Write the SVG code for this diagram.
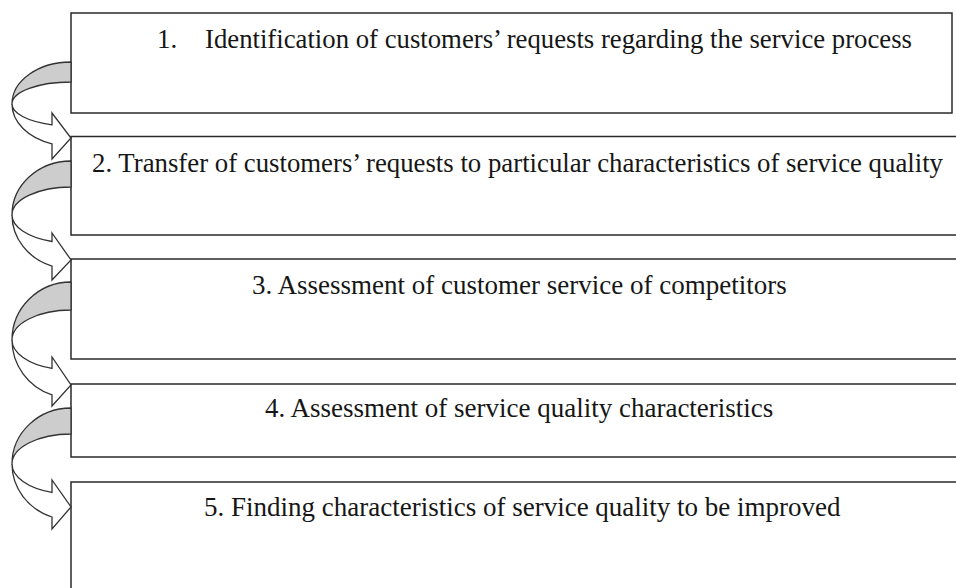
<svg xmlns="http://www.w3.org/2000/svg" width="956" height="588" viewBox="0 0 956 588">
  <style>
    .box { fill: #ffffff; stroke: #2a2a2a; stroke-width: 1.5; }
    .label { font-family: "Liberation Serif", "Times New Roman", serif; font-size: 27px; fill: #161616; }
    .back { fill: #cdcdcd; stroke: #333333; stroke-width: 1.3; stroke-linejoin: round; }
    .front { fill: #ffffff; stroke: #333333; stroke-width: 1.3; stroke-linejoin: miter; }
  </style>
  <rect width="956" height="588" fill="#ffffff"/>

  <!-- process steps -->
  <g id="step1">
    <rect class="box" x="71" y="13" width="881" height="100"/>
    <text class="label" y="48"><tspan x="157">1.</tspan><tspan x="205" textLength="707" lengthAdjust="spacingAndGlyphs">Identification of customers’ requests regarding the service process</tspan></text>
  </g>
  <g id="step2">
    <rect class="box" x="71" y="136.5" width="900" height="98.5"/>
    <text class="label" x="92" y="172" textLength="851" lengthAdjust="spacingAndGlyphs">2. Transfer of customers’ requests to particular characteristics of service quality</text>
  </g>
  <g id="step3">
    <rect class="box" x="71" y="259" width="900" height="100"/>
    <text class="label" x="252" y="294">3. Assessment of customer service of competitors</text>
  </g>
  <g id="step4">
    <rect class="box" x="71" y="384" width="900" height="73"/>
    <text class="label" x="265" y="417">4. Assessment of service quality characteristics</text>
  </g>
  <g id="step5">
    <rect class="box" x="71" y="482" width="900" height="130"/>
    <text class="label" x="204" y="516">5. Finding characteristics of service quality to be improved</text>
  </g>

  <!-- curved connectors: shaded back band, then white front band with head -->
  <g id="connectors">
    <!-- 1 -> 2 : centre y 104, outer ry 42, inner ry 22 -->
    <path class="back" d="M71,62 A59,42 0 0 0 12,104 A59,22 0 0 1 71,82 Z"/>
    <path class="front" d="M12,104 A59,42 0 0 0 52,143.8 L52,159 L71,138 L52,113 L52,124.8 A59,22 0 0 1 12,104 Z"/>

    <!-- 2 -> 3 : centre y 215, outer ry 54, inner ry 28 -->
    <path class="back" d="M71,161 A59,54 0 0 0 12,215 A59,28 0 0 1 71,187 Z"/>
    <path class="front" d="M12,215 A59,54 0 0 0 52,266.1 L52,280 L71,260 L52,233 L52,241.5 A59,28 0 0 1 12,215 Z"/>

    <!-- 3 -> 4 : centre y 340, outer ry 58, inner ry 30 -->
    <path class="back" d="M71,282 A59,58 0 0 0 12,340 A59,30 0 0 1 71,310 Z"/>
    <path class="front" d="M12,340 A59,58 0 0 0 52,394.9 L52,406 L71,385 L52,357 L52,368.4 A59,30 0 0 1 12,340 Z"/>

    <!-- 4 -> 5 : centre y 464, outer ry 56, inner ry 30 -->
    <path class="back" d="M71,408 A59,56 0 0 0 12,464 A59,30 0 0 1 71,434 Z"/>
    <path class="front" d="M12,464 A59,56 0 0 0 52,517 L52,529 L71,507 L52,480 L52,492.4 A59,30 0 0 1 12,464 Z"/>
  </g>
</svg>
